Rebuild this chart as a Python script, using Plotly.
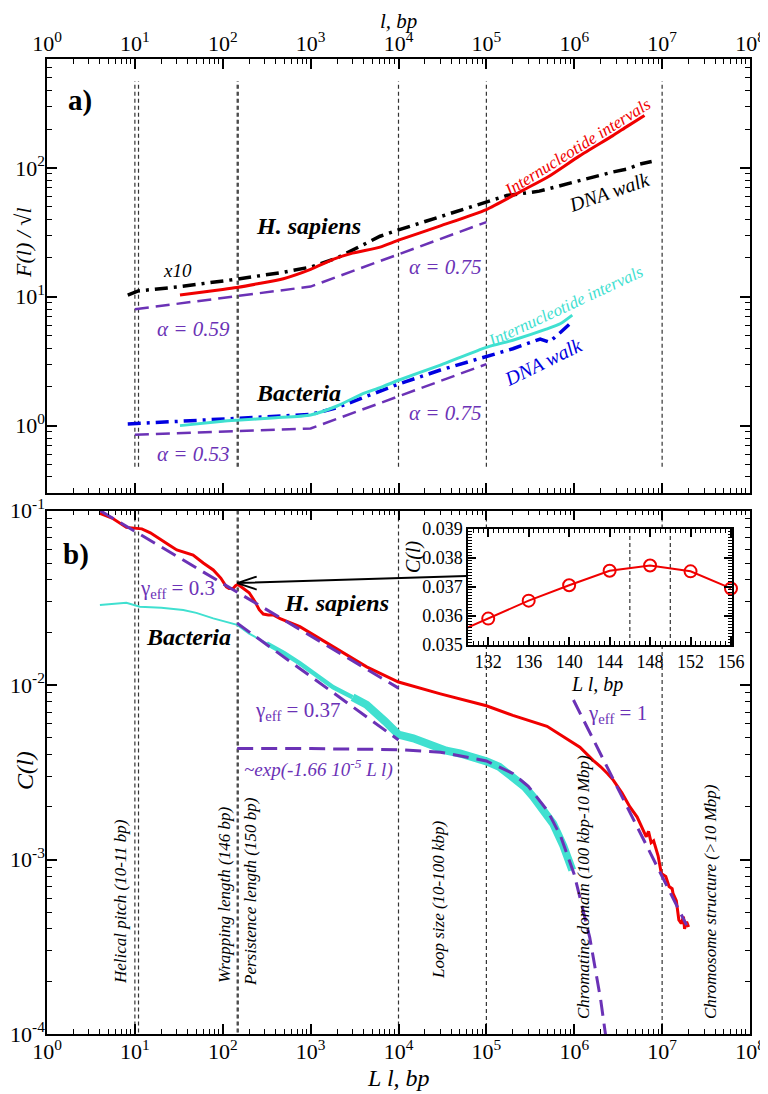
import numpy as np
import plotly.graph_objects as go

FONT = "Liberation Serif"
RED = "#f00000"
CYAN = "#40e0d0"
BLUE = "#0000e0"
PURPLE = "#6b32b6"
GRAY = "#333333"

# ---------------- panel a) : F(l)/sqrt(l) ----------------
hs_walk_l = [8.3, 10.9, 30, 80, 144, 490, 1000, 2000, 3000, 6170, 1e4, 3e4, 1e5,
             1.7e5, 4e5, 8e5, 1.5e6, 2.75e6, 4e6, 5.6e6, 7.6e6]
hs_walk_F = [10.3, 11.1, 11.9, 12.9, 13.7, 15.5, 17.0, 20.0, 23.0, 29.5, 33.0, 42.0, 55.0,
             61.0, 66.0, 75.0, 83.0, 93.0, 98.0, 107.0, 112.0]

hs_int_l = [32.6, 60, 100, 144, 250, 490, 1000, 1800, 3000, 6170, 1e4, 3e4, 1e5,
            2.6e5, 5e5, 1.15e6, 2.75e6, 4e6, 6.3e6]
hs_int_F = [10.3, 10.9, 11.4, 11.8, 12.6, 13.8, 16.3, 19.5, 21.8, 24.3, 27.5, 35.5, 47.5,
            67.0, 85.0, 124.0, 178.0, 210.0, 255.0]

bac_walk_l = [8.3, 11, 30, 144, 400, 1000, 2000, 4000, 6170, 1e4, 3e4, 1e5, 2e5,
              4.1e5, 5.2e5, 7e5, 9e5]
bac_walk_F = [1.03, 1.04, 1.08, 1.14, 1.17, 1.22, 1.38, 1.66, 1.86, 2.1, 2.7, 3.45, 3.95,
              4.7, 4.45, 5.3, 6.2]

bac_int_l = [32.6, 100, 144, 400, 1000, 2000, 4000, 6170, 1e4, 3e4, 1e5, 2e5, 4.8e5, 7e5, 9.5e5]
bac_int_F = [1.0, 1.08, 1.1, 1.15, 1.21, 1.42, 1.78, 1.97, 2.25, 2.95, 4.05, 4.6, 5.6, 6.2, 7.2]

hs_fit_l = [10, 1000, 1e5]
hs_fit_F = [8.0, 12.0, 38.0]
bac_fit_l = [10, 1000, 1e5]
bac_fit_F = [0.85, 0.95, 3.0]

# ---------------- panel b) : C(l) ----------------
hs_C_l = [4.0, 5.5, 8.0, 10, 12, 15, 19, 25, 30, 38, 46, 60, 78, 95, 110, 118, 132, 140,
          148, 156, 175, 200, 233, 260, 289, 330, 376, 450, 755, 1807, 4340, 1e4, 3e4,
          1e5, 2e5, 4.9e5, 1.16e6, 1.64e6, 2.0e6, 2.4e6, 2.78e6, 3.5e6, 4.3e6, 5.2e6,
          6.0e6, 6.6e6, 7.0e6, 7.5e6, 8.0e6, 9.0e6, 9.8e6, 1.1e7, 1.2e7, 1.3e7, 1.33e7,
          1.45e7, 1.55e7, 1.65e7, 1.75e7, 1.8e7, 1.9e7, 2.0e7]
hs_C = [0.0964, 0.0905, 0.080, 0.079, 0.0785, 0.0745, 0.0693, 0.063, 0.0594, 0.057,
        0.0556, 0.050, 0.0456, 0.041, 0.0365, 0.0357, 0.0359, 0.0371, 0.0377, 0.037,
        0.0355, 0.0338, 0.030, 0.027, 0.0255, 0.0252, 0.0252, 0.0240, 0.0216, 0.0166,
        0.0127, 0.0104, 0.0089, 0.0076, 0.0067, 0.0058, 0.0044, 0.0037, 0.0034, 0.0031,
        0.00285, 0.0024, 0.0020, 0.00175, 0.0015, 0.00135, 0.00145, 0.00125, 0.00128,
        0.00105, 0.00083, 0.00080, 0.00070, 0.00068, 0.00064, 0.00058, 0.00045, 0.00043,
        0.00047, 0.00040, 0.00044, 0.00041]

bac_C_l = [4, 6, 8, 11.4, 20, 35.5, 50, 78, 110, 146, 200, 316, 500, 755, 1200, 1807,
           3000, 4340, 7000, 1e4, 1.47e4, 2.2e4, 3.5e4, 5e4, 7e4, 1e5, 1.4e5, 2e5,
           2.7e5, 3.4e5, 4.5e5, 5.76e5, 7.5e5, 9.5e5]
bac_C = [0.0287, 0.0292, 0.0296, 0.0281, 0.0277, 0.0269, 0.0259, 0.0241, 0.0231, 0.0221,
         0.0197, 0.0173, 0.0152, 0.0133, 0.0112, 0.0097, 0.0085, 0.0077, 0.0062, 0.0052,
         0.00495, 0.00455, 0.00420, 0.00405, 0.00390, 0.00365, 0.00340, 0.00300,
         0.00262, 0.00229, 0.00190, 0.00160, 0.00120, 0.00087]

g03_l = [4, 1e4]
g03_C = [0.1, 0.0096]
g037_l = [146, 1e4]
g037_C = [0.0226, 0.00484]
exp_l = [146, 1e3, 1e4, 3e4, 1e5, 2e5, 3e5, 5e5, 7e5, 1e6, 1.5e6, 2e6, 2.4e6]
exp_C = [0.00433, 0.00432, 0.00426, 0.00412, 0.00367, 0.00311, 0.00263, 0.00189,
         0.00136, 0.00082, 0.000358, 0.000157, 0.000081]
g1_l = [9.8e5, 1.9e7]
g1_C = [0.0082, 0.00042]

# inset
ins_l = [128, 132, 136, 140, 144, 148, 152, 156]
ins_C = [0.0353, 0.03591, 0.03653, 0.03706, 0.03756, 0.03774, 0.03754, 0.03695]
ins_marks = [146, 150]

# structural scales (vertical dashed lines)
struct_l = [10, 11, 146, 150, 1e4, 1e5, 1e7]

# tick labels
x_ticks = [10 ** k for k in range(0, 9)]
x_ticktext = [f"10<sup>{k}</sup>" for k in range(0, 9)]
ya_ticks = [1, 10, 100]
ya_ticktext = ["10<sup>0</sup>", "10<sup>1</sup>", "10<sup>2</sup>"]
yb_ticks = [1e-4, 1e-3, 1e-2, 1e-1]
yb_ticktext = ["10<sup>-4</sup>", "10<sup>-3</sup>", "10<sup>-2</sup>", "10<sup>-1</sup>"]
ins_xticks = [132, 136, 140, 144, 148, 152, 156]

# ---------------- geometry (page pixels; page body has an 8px margin) ----------------
OFF = 8
PAGE_W, PAGE_H = 768, 1094
PL, PR, PT, PB = 47, 750, 59, 1034          # plot area in page pixels
W, H = PAGE_W - OFF, PAGE_H - OFF
ML, MT = PL - OFF, PT - OFF
MR, MB = PAGE_W - PR, PAGE_H - PB
PW, PH = PR - PL, PB - PT


def dom_y(top_px, bot_px):
    return [(PB - bot_px) / PH, (PB - top_px) / PH]


def dom_x(l_px, r_px):
    return [(l_px - PL) / PW, (r_px - PL) / PW]


fig = go.Figure()

# ---- panel a traces (x2, y2) ----
va_x, va_y = [], []
for v in struct_l:
    va_x += [v, v, None]
    va_y += [0.48, 470, None]
fig.add_trace(go.Scatter(x=va_x, y=va_y, xaxis="x2", yaxis="y2", mode="lines",
                         line=dict(color=GRAY, width=1.2, dash="4px,3px"), hoverinfo="skip"))

fig.add_trace(go.Scatter(x=hs_walk_l, y=hs_walk_F, xaxis="x2", yaxis="y2", mode="lines",
                         line=dict(color="black", width=3.5, dash="13px,6px,3px,6px")))
fig.add_trace(go.Scatter(x=hs_int_l, y=hs_int_F, xaxis="x2", yaxis="y2", mode="lines",
                         line=dict(color=RED, width=3, shape="spline", smoothing=0.6)))
fig.add_trace(go.Scatter(x=bac_walk_l, y=bac_walk_F, xaxis="x2", yaxis="y2", mode="lines",
                         line=dict(color=BLUE, width=3.5, dash="13px,6px,3px,6px")))
fig.add_trace(go.Scatter(x=bac_int_l, y=bac_int_F, xaxis="x2", yaxis="y2", mode="lines",
                         line=dict(color=CYAN, width=3, shape="spline", smoothing=0.6)))
fig.add_trace(go.Scatter(x=hs_fit_l, y=hs_fit_F, xaxis="x2", yaxis="y2", mode="lines",
                         line=dict(color=PURPLE, width=2.5, dash="14px,7px")))
fig.add_trace(go.Scatter(x=bac_fit_l, y=bac_fit_F, xaxis="x2", yaxis="y2", mode="lines",
                         line=dict(color=PURPLE, width=2.5, dash="14px,7px")))

# ---- panel b traces (x, y) ----
inset_top_C, inset_bot_C = 0.0783, 0.01694
vb_x, vb_y = [], []
for v in struct_l:
    if v in (1e5, 1e7):
        vb_x += [v, v, None, v, v, None]
        vb_y += [0.1, inset_top_C, None, inset_bot_C, 1e-4, None]
    else:
        vb_x += [v, v, None]
        vb_y += [0.1, 1e-4, None]
fig.add_trace(go.Scatter(x=vb_x, y=vb_y, mode="lines",
                         line=dict(color=GRAY, width=1.2, dash="4px,3px"), hoverinfo="skip"))

# bacteria curve: thin at short scales, wide noisy band at long scales
n1 = bac_C_l.index(316)
n2 = bac_C_l.index(3000)
fig.add_trace(go.Scatter(x=bac_C_l[:n1 + 1], y=bac_C[:n1 + 1], mode="lines",
                         line=dict(color=CYAN, width=2)))
fig.add_trace(go.Scatter(x=bac_C_l[n1:n2 + 1], y=bac_C[n1:n2 + 1], mode="lines",
                         line=dict(color=CYAN, width=4.5)))
fig.add_trace(go.Scatter(x=bac_C_l[n2:], y=bac_C[n2:], mode="lines",
                         line=dict(color=CYAN, width=8)))
fig.add_trace(go.Scatter(x=hs_C_l, y=hs_C, mode="lines",
                         line=dict(color=RED, width=3)))

for xs, ys in [(g03_l, g03_C), (g037_l, g037_C), (exp_l, exp_C), (g1_l, g1_C)]:
    fig.add_trace(go.Scatter(x=xs, y=ys, mode="lines",
                             line=dict(color=PURPLE, width=3, dash="16px,8px")))

# ---- inset (x3, y3) ----
vi_x, vi_y = [], []
for v in ins_marks:
    vi_x += [v, v, None]
    vi_y += [0.035, 0.039, None]
fig.add_trace(go.Scatter(x=vi_x, y=vi_y, xaxis="x3", yaxis="y3", mode="lines",
                         line=dict(color=GRAY, width=1.2, dash="4px,3px"), hoverinfo="skip"))
fig.add_trace(go.Scatter(x=ins_l, y=ins_C, xaxis="x3", yaxis="y3", mode="lines",
                         line=dict(color=RED, width=2)))
fig.add_trace(go.Scatter(x=ins_l[1:], y=ins_C[1:], xaxis="x3", yaxis="y3", mode="markers",
                         cliponaxis=False,
                         marker=dict(symbol="circle-open", size=12, color=RED,
                                     line=dict(width=2, color=RED))))

# ---------------- axes ----------------
tickfont = dict(family=FONT, size=22, color="black")
common = dict(showline=True, linecolor="black", linewidth=1.5, mirror="ticks",
              ticks="inside", ticklen=10, tickwidth=1.5, tickcolor="black",
              showgrid=False, zeroline=False, automargin=False, tickfont=tickfont)


def log_minor(lo_exp, hi_exp):
    return [k * 10.0 ** e for e in range(lo_exp, hi_exp) for k in range(2, 10)]


minor_style = dict(ticks="inside", ticklen=5, tickwidth=1.2, tickcolor="black",
                   tickmode="array")

x_minor = log_minor(0, 8)
ya_minor = [v for v in log_minor(-1, 3) if 0.3 <= v <= 700]
yb_minor = log_minor(-4, -1)

top_dom = dom_y(59, 493)
bot_dom = dom_y(510.5, 1034)
inset_font = dict(family=FONT, size=18, color="black")
inset_common = dict(showline=True, linecolor="black", linewidth=1.5, mirror="ticks",
                    ticks="inside", ticklen=8, tickwidth=1.5, tickcolor="black",
                    showgrid=False, zeroline=False, automargin=False, tickfont=inset_font)

fig.update_layout(
    xaxis=dict(type="log", range=[0, 8], domain=[0, 1], anchor="y", side="bottom",
               tickmode="array", tickvals=x_ticks, ticktext=x_ticktext,
               ticklabelstandoff=-3,
               minor=dict(tickvals=x_minor, **minor_style), **common),
    yaxis=dict(type="log", range=[-4, -1], domain=bot_dom, anchor="x",
               tickmode="array", tickvals=yb_ticks, ticktext=yb_ticktext,
               ticklabelstandoff=-4,
               minor=dict(tickvals=yb_minor, **minor_style), **common),
    xaxis2=dict(type="log", range=[0, 8], domain=[0, 1], anchor="y2", side="top",
                tickmode="array", tickvals=x_ticks, ticktext=x_ticktext,
                ticklabelstandoff=-3,
                minor=dict(tickvals=x_minor, **minor_style), **common),
    yaxis2=dict(type="log", range=[np.log10(0.3), np.log10(700)], domain=top_dom,
                anchor="x2", tickmode="array", tickvals=ya_ticks, ticktext=ya_ticktext,
                ticklabelstandoff=-4,
                minor=dict(tickvals=ya_minor, **minor_style), **common),
    xaxis3=dict(range=[130, 156.1], domain=dom_x(468, 732), anchor="y3",
                tickmode="array", tickvals=ins_xticks,
                minor=dict(ticks="inside", ticklen=4, tickwidth=1, tickcolor="black",
                           tickmode="linear", tick0=130, dtick=0.5),
                **inset_common),
    yaxis3=dict(range=[0.035, 0.039], domain=dom_y(529, 645), anchor="x3",
                tickmode="linear", tick0=0.035, dtick=0.001, tickformat=".3f",
                minor=dict(ticks="inside", ticklen=4, tickwidth=1, tickcolor="black",
                           tickmode="linear", tick0=0.035, dtick=0.0001),
                **inset_common),
)


# ---------------- annotations ----------------
def ann(px, py, text, size=20, color="black", angle=0):
    return dict(x=(px - PL) / PW, y=(PB - py) / PH, xref="paper", yref="paper",
                text=text, showarrow=False, textangle=angle,
                font=dict(family=FONT, size=size, color=color),
                xanchor="center", yanchor="middle")


head_x, head_y = np.log10(146), np.log10(0.0384)
anns = [
    # axis titles
    ann(398, 21, "<i>l, bp</i>", 21),
    ann(398, 1078, "<i>L l, bp</i>", 24),
    ann(24, 243, "<i>F(l) / √l</i>", 22, angle=-90),
    ann(25, 771, "<i>C(l)</i>", 24, angle=-90),
    # panel a
    ann(80, 100, "<b>a)</b>", 29),
    ann(308, 226, "<b><i>H. sapiens</i></b>", 24),
    ann(177, 270, "<i>x10</i>", 19),
    ann(193, 329, "<i>α = 0.59</i>", 21, PURPLE),
    ann(445, 267, "<i>α = 0.75</i>", 21, PURPLE),
    ann(577, 147, "<i>Internucleotide intervals</i>", 17, RED, -32),
    ann(609, 192, "<i>DNA walk</i>", 20, "black", -19),
    ann(565, 306, "<i>Internucleotide intervals</i>", 17, CYAN, -25),
    ann(298, 393, "<b><i>Bacteria</i></b>", 24),
    ann(543, 362, "<i>DNA walk</i>", 20, BLUE, -26),
    ann(193, 454, "<i>α = 0.53</i>", 21, PURPLE),
    ann(445, 413, "<i>α = 0.75</i>", 21, PURPLE),
    # panel b
    ann(76, 554, "<b>b)</b>", 29),
    ann(177, 589, "γ<sub>eff</sub> = 0.3", 21, PURPLE),
    ann(336, 603, "<b><i>H. sapiens</i></b>", 24),
    ann(188, 637, "<b><i>Bacteria</i></b>", 24),
    ann(297, 711, "γ<sub>eff</sub> = 0.37", 21, PURPLE),
    ann(318, 768, "<i>~exp(-1.66 10<sup>-5</sup> L l)</i>", 19, PURPLE),
    ann(617, 714, "γ<sub>eff</sub> = 1", 21, PURPLE),
    ann(120, 902, "<i>Helical pitch (10-11 bp)</i>", 17, angle=-90),
    ann(224, 895, "<i>Wrapping length (146 bp)</i>", 17, angle=-90),
    ann(250, 892, "<i>Persistence length (150 bp)</i>", 17, angle=-90),
    ann(438, 900, "<i>Loop size (10-100 kbp)</i>", 17, angle=-90),
    ann(583, 887, "<i>Chromatine domain (100 kbp-10 Mbp)</i>", 17, angle=-90),
    ann(710, 902, "<i>Chromosome structure (>10 Mbp)</i>", 17, angle=-90),
    # inset titles
    ann(413, 556, "<i>C(l)</i>", 20, angle=-90),
    ann(597, 684, "<i>L l, bp</i>", 20),
    # arrow from inset to the 146-150 bp feature (shaft + open head)
    dict(x=head_x, y=head_y, xref="x", yref="y",
         ax=np.log10(61600), ay=np.log10(0.0421), axref="x", ayref="y",
         text="", showarrow=True, arrowhead=0, arrowwidth=2, arrowcolor="black"),
    dict(x=head_x, y=head_y, xref="x", yref="y", ax=21, ay=-7,
         text="", showarrow=True, arrowhead=0, arrowwidth=1.8, arrowcolor="black"),
    dict(x=head_x, y=head_y, xref="x", yref="y", ax=21, ay=7,
         text="", showarrow=True, arrowhead=0, arrowwidth=1.8, arrowcolor="black"),
]

fig.update_layout(
    width=W, height=H, autosize=False,
    margin=dict(l=ML, r=MR, t=MT, b=MB, pad=0),
    paper_bgcolor="white", plot_bgcolor="white",
    showlegend=False,
    font=dict(family=FONT, color="black"),
    annotations=anns,
)

fig.write_html("out.html")
